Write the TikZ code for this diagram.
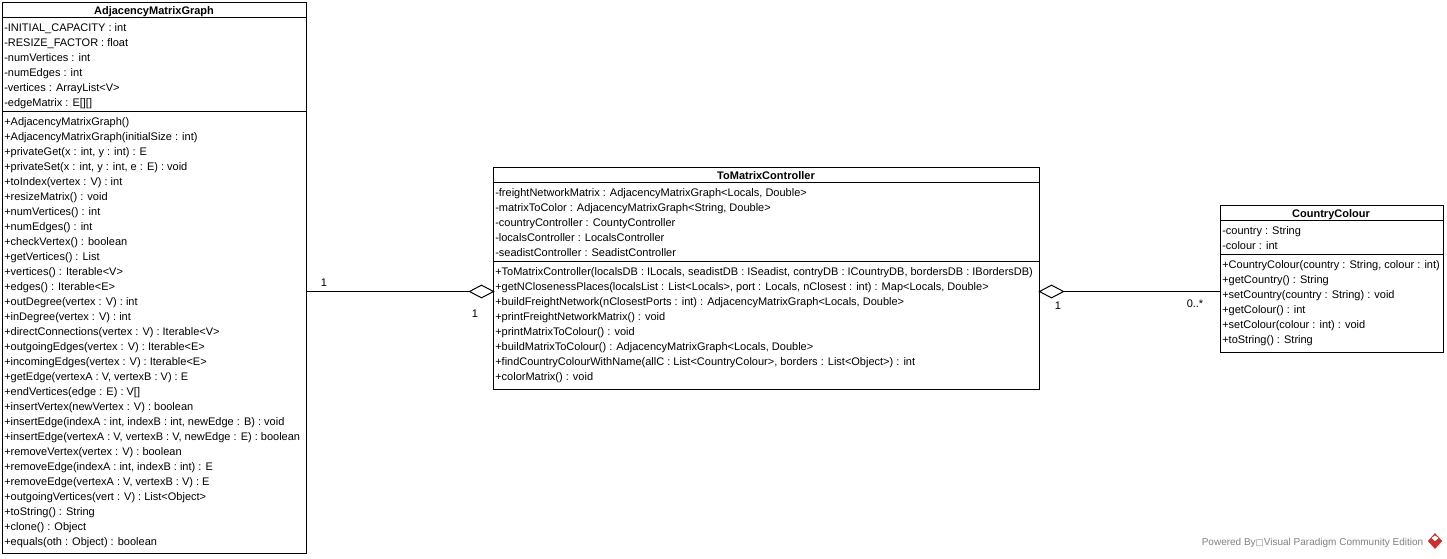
\documentclass[tikz,border=0pt]{standalone}
\usepackage{fontspec}
\setmainfont{Liberation Sans}
\usetikzlibrary{shapes.geometric}
\newcommand{\umlsize}{\fontsize{8.25}{11.25}\selectfont}
\newcommand{\nl}{\\\strut}
\definecolor{vpred}{RGB}{200,50,50}
\tikzset{
  umlbox/.style={draw=black,line width=0.75pt,fill=white,rectangle,inner sep=0pt,outer sep=0pt,anchor=north west},
  umltitle/.style={font=\umlsize\bfseries,inner sep=0pt,anchor=base},
  members/.style={font=\umlsize,inner sep=0pt,anchor=north west,align=left},
  umlsep/.style={line width=0.75pt,draw=black},
  assoc/.style={line width=0.75pt,draw=black},
  aggr/.style={draw=black,fill=white,line width=0.75pt,shape=diamond,aspect=2,inner sep=0pt,outer sep=0pt,minimum width=18pt,minimum height=9.5pt},
  mult/.style={font=\umlsize,inner sep=0pt,anchor=base},
}
\begin{document}
\begin{tikzpicture}[x=0.75pt,y=-0.75pt]
\useasboundingbox (0,0) rectangle (1447,558);
% AdjacencyMatrixGraph
\node[umlbox,minimum width=228pt,minimum height=413.25pt] (g) at (2.5,2.5) {};
\draw[umlsep] (g.west |- 0,17.5) -- (g.east |- 0,17.5);
\draw[umlsep] (g.west |- 0,111.5) -- (g.east |- 0,111.5);
\node[umltitle] (gt) at (154,14) {AdjacencyMatrixGraph};
\node[members] (ga) at (4,20.5) {\strut-INITIAL\_CAPACITY : int\nl-RESIZE\_FACTOR : float\nl-numVertices : int\nl-numEdges : int\nl-vertices : ArrayList<V>\nl-edgeMatrix : E[][]};
\node[members] (gm) at (4,114.5) {\strut+AdjacencyMatrixGraph()\nl+AdjacencyMatrixGraph(initialSize : int)\nl+privateGet(x : int, y : int) : E\nl+privateSet(x : int, y : int, e : E) : void\nl+toIndex(vertex : V) : int\nl+resizeMatrix() : void\nl+numVertices() : int\nl+numEdges() : int\nl+checkVertex() : boolean\nl+getVertices() : List\nl+vertices() : Iterable<V>\nl+edges() : Iterable<E>\nl+outDegree(vertex : V) : int\nl+inDegree(vertex : V) : int\nl+directConnections(vertex : V) : Iterable<V>\nl+outgoingEdges(vertex : V) : Iterable<E>\nl+incomingEdges(vertex : V) : Iterable<E>\nl+getEdge(vertexA : V, vertexB : V) : E\nl+endVertices(edge : E) : V[]\nl+insertVertex(newVertex : V) : boolean\nl+insertEdge(indexA : int, indexB : int, newEdge : B) : void\nl+insertEdge(vertexA : V, vertexB : V, newEdge : E) : boolean\nl+removeVertex(vertex : V) : boolean\nl+removeEdge(indexA : int, indexB : int) : E\nl+removeEdge(vertexA : V, vertexB : V) : E\nl+outgoingVertices(vert : V) : List<Object>\nl+toString() : String\nl+clone() : Object\nl+equals(oth : Object) : boolean};
% ToMatrixController
\node[umlbox,minimum width=409.5pt,minimum height=166.5pt] (c) at (493.5,167.5) {};
\draw[umlsep] (c.west |- 0,182.5) -- (c.east |- 0,182.5);
\draw[umlsep] (c.west |- 0,261.5) -- (c.east |- 0,261.5);
\node[umltitle] (ct) at (766,179) {ToMatrixController};
\node[members] (ca) at (495,185.5) {\strut-freightNetworkMatrix : AdjacencyMatrixGraph<Locals, Double>\nl-matrixToColor : AdjacencyMatrixGraph<String, Double>\nl-countryController : CountyController\nl-localsController : LocalsController\nl-seadistController : SeadistController};
\node[members] (cm) at (495,264.5) {\strut+ToMatrixController(localsDB : ILocals, seadistDB : ISeadist, contryDB : ICountryDB, bordersDB : IBordersDB)\nl+getNClosenessPlaces(localsList : List<Locals>, port : Locals, nClosest : int) : Map<Locals, Double>\nl+buildFreightNetwork(nClosestPorts : int) : AdjacencyMatrixGraph<Locals, Double>\nl+printFreightNetworkMatrix() : void\nl+printMatrixToColour() : void\nl+buildMatrixToColour() : AdjacencyMatrixGraph<Locals, Double>\nl+findCountryColourWithName(allC : List<CountryColour>, borders : List<Object>) : int\nl+colorMatrix() : void};
% CountryColour
\node[umlbox,minimum width=167.25pt,minimum height=110.25pt] (k) at (1220.5,205.5) {};
\draw[umlsep] (k.west |- 0,220.5) -- (k.east |- 0,220.5);
\draw[umlsep] (k.west |- 0,254.5) -- (k.east |- 0,254.5);
\node[umltitle] (kt) at (1331,217) {CountryColour};
\node[members] (ka) at (1222,223.5) {\strut-country : String\nl-colour : int};
\node[members] (km) at (1222,257.5) {\strut+CountryColour(country : String, colour : int)\nl+getCountry() : String\nl+setCountry(country : String) : void\nl+getColour() : int\nl+setColour(colour : int) : void\nl+toString() : String};
% Associations
\node[aggr,anchor=east] (d1) at (c.west |- 0,291.5) {};
\node[aggr,anchor=west] (d2) at (c.east |- 0,291.5) {};
\draw[assoc] (g.east |- d1.west) -- (d1.west);
\draw[assoc] (d2.east) -- (k.west |- d2.east);
\node[mult] (m1) at (324,286) {1};
\node[mult] (m2) at (475,317) {1};
\node[mult] (m3) at (1058,309) {1};
\node[mult] (m4) at (1195,307) {0..*};
% Watermark
\node[font=\fontsize{7.5}{10}\selectfont,text=black!50,inner sep=0pt,anchor=base east] (wm) at (1423.5,545) {Powered By{\fontspec{DejaVu Sans}\fontsize{6.5}{8}\selectfont □}Visual Paradigm Community Edition};
\node[shape=diamond,fill=vpred,inner sep=0pt,minimum width=11pt,minimum height=12pt] (logo) at (1435,541) {};
\fill[white] (1431.5,538) -- (1435,535.5) -- (1438.5,538) -- (1435,541) -- cycle;
\end{tikzpicture}
\end{document}
